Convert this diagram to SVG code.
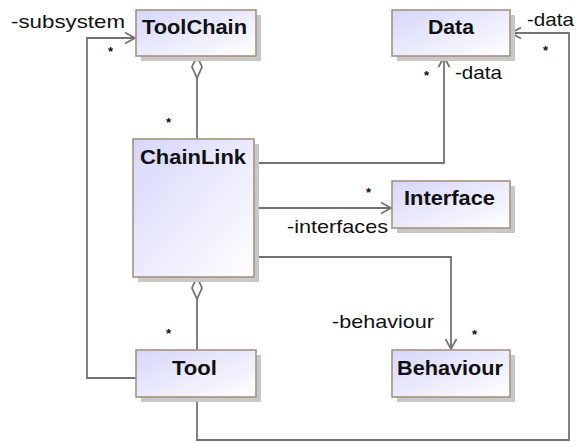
<svg xmlns="http://www.w3.org/2000/svg" width="576" height="442" viewBox="0 0 576 442">
  <style>
    .box { fill: url(#classFill); stroke: #a8927e; stroke-width: 1.6; }
    .shadow { fill: #c8c8c8; }
    .name { font-family: "Liberation Sans", Arial, sans-serif; font-weight: bold; font-size: 20px; fill: #111; }
    .role { font-family: "Liberation Sans", Arial, sans-serif; font-size: 19px; fill: #111; }
    .mult { font-family: "Liberation Sans", Arial, sans-serif; font-weight: bold; font-size: 13px; fill: #0a0a2a; }
    .edge { fill: none; stroke: #737373; stroke-width: 1.8; }
    .diamond { fill: #ffffff; stroke: #737373; stroke-width: 1.8; }
  </style>
  <defs>
    <linearGradient id="classFill" x1="0" y1="0" x2="1" y2="1">
      <stop offset="0" stop-color="#d6d6fb"/>
      <stop offset="1" stop-color="#ffffff"/>
    </linearGradient>
    <marker id="open" viewBox="-12 -7 14 14" markerWidth="14" markerHeight="14" refX="0" refY="0" orient="auto" markerUnits="userSpaceOnUse">
      <path d="M-10,-5.5 L0,0 L-10,5.5" fill="none" stroke="#737373" stroke-width="1.8"/>
    </marker>
  </defs>

  <!-- associations -->
  <g id="connectors">
    <path class="edge" d="M197,78 V139"/>
    <path class="diamond" d="M197,56 L202,67 L197,78 L192,67 Z"/>
    <path class="edge" d="M197,299 V350"/>
    <path class="diamond" d="M197,277 L202,288 L197,299 L192,288 Z"/>
    <path class="edge" d="M136,378 H87 V38 H135" marker-end="url(#open)"/>
    <path class="edge" d="M254,163 H444 V57" marker-end="url(#open)"/>
    <path class="edge" d="M254,208 H391" marker-end="url(#open)"/>
    <path class="edge" d="M254,257 H451 V349" marker-end="url(#open)"/>
    <path class="edge" d="M197,397 V440 H569 V33 H511" marker-end="url(#open)"/>

    <text class="role" x="11" y="28" textLength="114" lengthAdjust="spacingAndGlyphs">-subsystem</text>
    <text class="mult" x="108" y="56">*</text>
    <text class="mult" x="166" y="127">*</text>
    <text class="role" x="455" y="79" textLength="47" lengthAdjust="spacingAndGlyphs">-data</text>
    <text class="mult" x="424" y="80">*</text>
    <text class="role" x="527" y="26" textLength="47" lengthAdjust="spacingAndGlyphs">-data</text>
    <text class="mult" x="543" y="55">*</text>
    <text class="role" x="287" y="233" textLength="101" lengthAdjust="spacingAndGlyphs">-interfaces</text>
    <text class="mult" x="366" y="197">*</text>
    <text class="role" x="332" y="328" textLength="102" lengthAdjust="spacingAndGlyphs">-behaviour</text>
    <text class="mult" x="472" y="339">*</text>
    <text class="mult" x="166" y="338">*</text>
  </g>

  <g id="ToolChain">
    <rect class="shadow" x="141" y="15" width="120" height="46"/>
    <rect class="box" x="136" y="10" width="120" height="46"/>
    <text class="name" x="142" y="34" textLength="105" lengthAdjust="spacingAndGlyphs">ToolChain</text>
  </g>

  <g id="Data">
    <rect class="shadow" x="397" y="15" width="118" height="46"/>
    <rect class="box" x="392" y="10" width="118" height="46"/>
    <text class="name" x="428" y="34" textLength="46" lengthAdjust="spacingAndGlyphs">Data</text>
  </g>

  <g id="ChainLink">
    <rect class="shadow" x="138" y="144" width="121" height="138"/>
    <rect class="box" x="133" y="139" width="121" height="138"/>
    <text class="name" x="140" y="164" textLength="106" lengthAdjust="spacingAndGlyphs">ChainLink</text>
  </g>

  <g id="Interface">
    <rect class="shadow" x="397" y="186" width="118" height="47"/>
    <rect class="box" x="392" y="181" width="118" height="47"/>
    <text class="name" x="404" y="205" textLength="91" lengthAdjust="spacingAndGlyphs">Interface</text>
  </g>

  <g id="Tool">
    <rect class="shadow" x="141" y="355" width="120" height="47"/>
    <rect class="box" x="136" y="350" width="120" height="47"/>
    <text class="name" x="172" y="375" textLength="45" lengthAdjust="spacingAndGlyphs">Tool</text>
  </g>

  <g id="Behaviour">
    <rect class="shadow" x="397" y="355" width="118" height="47"/>
    <rect class="box" x="392" y="350" width="118" height="47"/>
    <text class="name" x="397" y="375" textLength="106" lengthAdjust="spacingAndGlyphs">Behaviour</text>
  </g>
</svg>
